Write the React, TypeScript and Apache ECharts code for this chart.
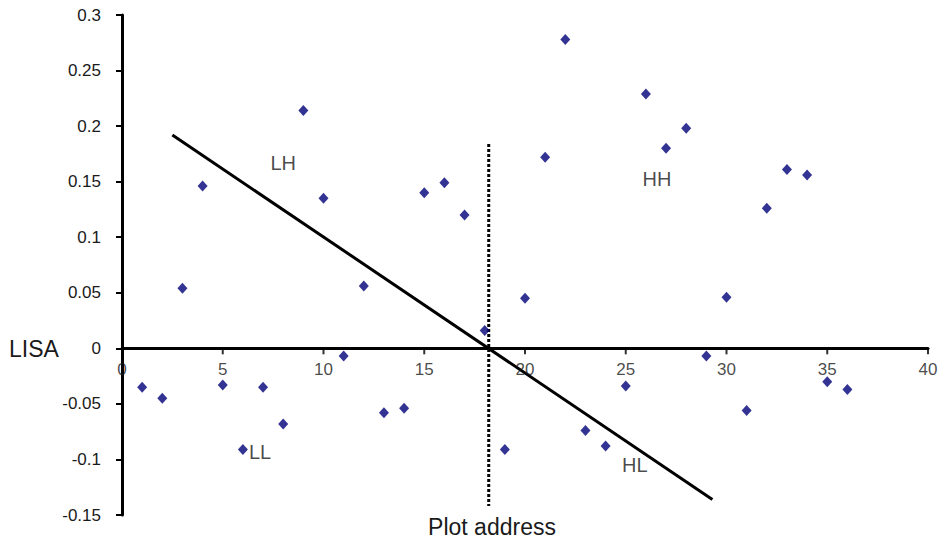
import React, { useEffect, useRef } from "react";
import * as echarts from "echarts";

const plotAddress = [1,2,3,4,5,6,7,8,9,10,11,12,13,14,15,16,17,18,19,20,21,22,23,24,25,26,27,28,29,30,31,32,33,34,35,36];
const lisaValues = [-0.035,-0.045,0.054,0.146,-0.033,-0.091,-0.035,-0.068,0.214,0.135,-0.007,0.056,-0.058,-0.054,0.140,0.149,0.120,0.016,-0.091,0.045,0.172,0.278,-0.074,-0.088,-0.034,0.229,0.180,0.198,-0.007,0.046,-0.056,0.126,0.161,0.156,-0.030,-0.037];
const xTickValues = [0, 5, 10, 15, 20, 25, 30, 35, 40];
const trendX = [2.5, 29.3];
const trendY = [0.192, -0.136];
const splitX = [18.2, 18.2];
const splitY = [0.184, -0.142];
const quadNames = ["LH", "HH", "LL", "HL"];
const quadX = [8.0, 26.55, 6.85, 25.45];
const quadY = [0.167, 0.152, -0.093, -0.105];

const FONT = "Liberation Sans, Arial, sans-serif";
const TXT = "#1a1a1a";

export default function App() {
  const ref = useRef<HTMLDivElement>(null);
  useEffect(() => {
    const chart = echarts.init(ref.current!, null, { renderer: "svg" });
    chart.setOption({
      animation: false,
      backgroundColor: "#fff",
      grid: { left: 122, right: 20, top: 15, bottom: 29 },
      xAxis: {
        type: "value",
        min: 0,
        max: 40,
        interval: 5,
        axisLine: { onZero: true, lineStyle: { color: "#000", width: 3 } },
        axisTick: { show: false },
        axisLabel: { show: false },
        splitLine: { show: false },
      },
      yAxis: {
        type: "value",
        min: -0.15,
        max: 0.3,
        interval: 0.05,
        axisLine: { show: true, onZero: false, lineStyle: { color: "#000", width: 3 } },
        axisTick: { show: true, length: 6, lineStyle: { color: "#000", width: 2 } },
        axisLabel: {
          color: TXT,
          fontSize: 17,
          fontFamily: FONT,
          margin: 21,
          formatter: (v: number) => String(parseFloat(v.toFixed(2))),
        },
        splitLine: { show: false },
      },
      series: [
        {
          type: "scatter",
          data: xTickValues.map((x) => ({ value: [x, 0], name: String(x) })),
          symbol: "rect",
          symbolSize: [2, 6],
          symbolOffset: [0, 3],
          itemStyle: { color: "#000" },
          label: {
            show: true,
            position: "bottom",
            distance: 7,
            formatter: (p: any) => p.name,
            color: TXT,
            fontSize: 17,
            fontFamily: FONT,
          },
          silent: true,
          z: 4,
        },
        {
          type: "line",
          data: trendX.map((x, i) => [x, trendY[i]]),
          symbol: "none",
          lineStyle: { color: "#000", width: 3 },
          z: 3,
        },
        {
          type: "line",
          data: splitX.map((x, i) => [x, splitY[i]]),
          symbol: "none",
          lineStyle: { color: "#000", width: 3, type: [3, 2] },
          z: 3,
        },
        {
          type: "scatter",
          data: plotAddress.map((x, i) => [x, lisaValues[i]]),
          symbol: "diamond",
          symbolSize: [10, 11],
          itemStyle: { color: "#000078" },
          z: 5,
        },
        {
          type: "scatter",
          data: quadNames.map((n, i) => ({ value: [quadX[i], quadY[i]], name: n })),
          symbolSize: 0,
          label: {
            show: true,
            position: "inside",
            formatter: (p: any) => p.name,
            color: TXT,
            fontSize: 20,
            fontFamily: FONT,
          },
          z: 6,
        },
      ],
      graphic: [
        {
          type: "text",
          x: 9,
          y: 349,
          style: { text: "LISA", fill: TXT, fontSize: 23, fontFamily: FONT, textVerticalAlign: "middle" },
        },
        {
          type: "text",
          x: 492,
          y: 527,
          style: { text: "Plot address", fill: TXT, fontSize: 23, fontFamily: FONT, textAlign: "center", textVerticalAlign: "middle" },
        },
      ],
    });
    return () => chart.dispose();
  }, []);
  return <div ref={ref} style={{ width: 948, height: 544, margin: -8 }} />;
}
